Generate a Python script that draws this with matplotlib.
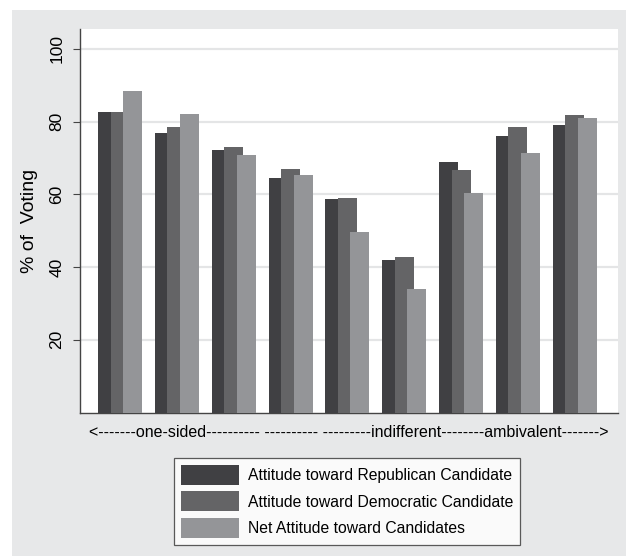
import numpy as np
import matplotlib.pyplot as plt
from matplotlib.patches import Rectangle, Patch

plt.rcParams['font.family'] = ['Liberation Sans', 'DejaVu Sans']

# % voting by attitude category (9 groups, one-sided -> indifferent -> ambivalent)
republican = [82.7, 76.9, 72.2, 64.5, 58.7, 41.9, 68.9, 76.0, 79.0]
democratic = [82.7, 78.5, 73.0, 66.9, 59.1, 42.7, 66.7, 78.5, 81.8]
net_att = [88.4, 82.1, 70.8, 65.3, 49.6, 34.1, 60.4, 71.3, 80.9]
series_names = ['Attitude toward Republican Candidate',
                'Attitude toward Democratic Candidate',
                'Net Attitude toward Candidates']
COLORS = ['#404043', '#646466', '#949598']
BG = '#e7e8e9'
xtitle = '<-------one-sided---------- ---------- ---------indifferent--------ambivalent------->'

W, H = 626, 556
fig = plt.figure(figsize=(W / 100, H / 100), dpi=100)
fig.patches.append(Rectangle((12 / W, 0), 1, 1 - 10 / H, transform=fig.transFigure,
                             facecolor=BG, edgecolor='none', zorder=-10))

ax = fig.add_axes([79.5 / W, 1 - 412.5 / H, (618 - 79.5) / W, (412.5 - 29) / H])
ax.set_facecolor('white')

x = np.arange(len(republican))
step, width = 0.22, 0.335
for k, vals in enumerate([republican, democratic, net_att]):
    ax.bar(x + (k - 1) * step, vals, width=width, color=COLORS[k], zorder=3 + k)

ax.set_xlim(-0.715, 8.76)
ax.set_ylim(0, 105.5)
ax.set_yticks([20, 40, 60, 80, 100])
ax.set_yticklabels(['20', '40', '60', '80', '100'], rotation=90, va='center', fontsize=12.5)
ax.grid(axis='y', color='#e4e5e6', lw=1.6, zorder=0)
ax.set_xticks([])
ax.tick_params(axis='y', length=5, color='#444444', pad=6)
for s in ['top', 'right']:
    ax.spines[s].set_visible(False)
for s in ['left', 'bottom']:
    ax.spines[s].set_color('#444444')
    ax.spines[s].set_linewidth(1.0)

ax.set_ylabel('% of  Voting', fontsize=14, labelpad=8)
xl = ax.set_xlabel(xtitle, fontsize=13, labelpad=9)

# shrink the category title so it spans the same width as in the original
fig.canvas.draw()
wpx = xl.get_window_extent().width
xl.set_fontsize(13 * 509 / wpx)

handles = [Patch(facecolor=c, edgecolor='none') for c in COLORS]
leg = fig.legend(handles, series_names, loc='upper left',
                 bbox_to_anchor=(174 / W, 1 - 457.5 / H), fontsize=11.3,
                 frameon=True, fancybox=False, handlelength=3.7, handleheight=1.6,
                 labelspacing=0.42, handletextpad=0.55, borderpad=0.45, borderaxespad=0)
leg.get_frame().set_edgecolor('#333333')
leg.get_frame().set_linewidth(0.9)
leg.get_frame().set_facecolor('white')

fig.savefig('out.png', dpi=100, facecolor='white')
